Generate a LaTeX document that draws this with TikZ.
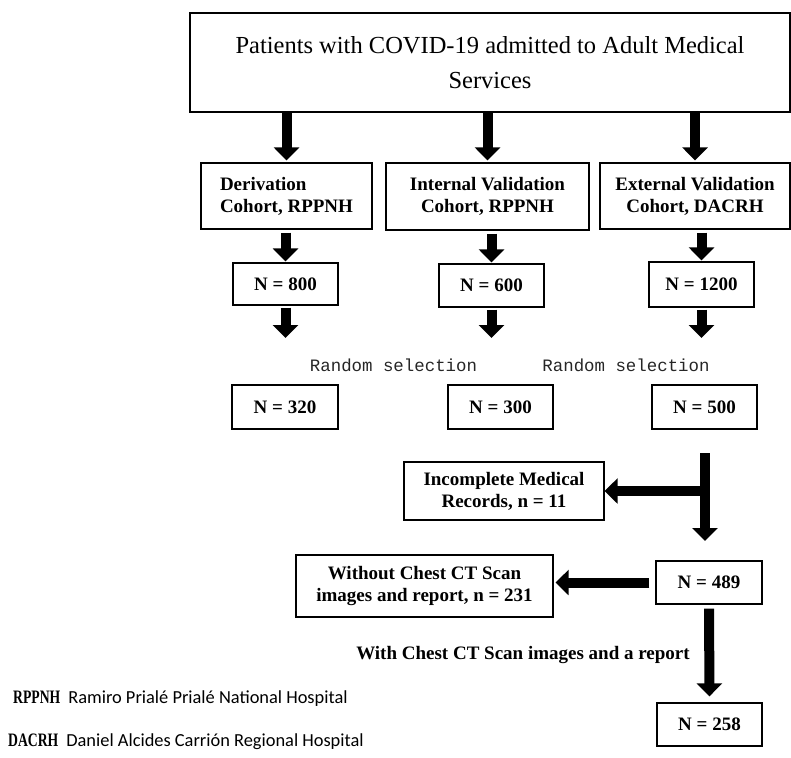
\documentclass[tikz,border=0pt]{standalone}
\usepackage{fontspec}
\setmainfont{Liberation Serif}
\newfontfamily\selfont{Liberation Mono}
\newfontfamily\legfont{Carlito}
\newfontfamily\abbfont[FakeStretch=0.72]{Liberation Serif}
\usepackage{tikz}
\usetikzlibrary{arrows.meta, positioning}
\tikzstyle{bbox} = [draw, line width=1.3pt, align=center, inner sep=0pt, font=\fontsize{19}{22}\selectfont\bfseries]
\tikzstyle{harrow} = [draw, line width=10pt, -{Triangle[width=25pt,length=13pt]}]
\tikzstyle{seltext} = [font=\selfont\fontsize{17.4}{20}\selectfont, text=black!85]

\begin{document}
\begin{tikzpicture}[x=1pt, y=-1pt]
			\useasboundingbox (0,0) rectangle (791,757);
			\node [bbox, minimum width=600pt, minimum height=99pt, font=\fontsize{24.5}{35}\selectfont] (top) at (490, 62.5) {Patients with COVID-19 admitted to Adult Medical\\Services};
			
			\node [bbox, minimum width=171pt, minimum height=66pt, align=left] (deriv) at (286.5, 196) {Derivation\\Cohort, RPPNH};
			\node [bbox, minimum width=203pt, minimum height=67pt] (intval) at (487.5, 196.5) {Internal Validation\\Cohort, RPPNH};
			\node [bbox, minimum width=190pt, minimum height=66pt] (extval) at (695, 196) {External Validation\\Cohort, DACRH};
			
			\node [bbox, minimum width=105pt, minimum height=42pt] (n800) at (285.5, 284) {N = 800};
			\node [bbox, minimum width=105pt, minimum height=43pt] (n600) at (491.5, 285.5) {N = 600};
			\node [bbox, minimum width=105pt, minimum height=45pt] (n1200) at (701.5, 284.5) {N = 1200};
			
			\node [seltext] (sel1) at (393.5, 365) {Random selection};
			\node [seltext] (sel2) at (626, 365) {Random selection};
			
			\node [bbox, minimum width=106pt, minimum height=44pt] (n320) at (285, 407) {N = 320};
			\node [bbox, minimum width=105pt, minimum height=44pt] (n300) at (500.5, 407) {N = 300};
			\node [bbox, minimum width=105pt, minimum height=44pt] (n500) at (704.5, 407) {N = 500};
			
			\node [bbox, minimum width=200pt, minimum height=58pt] (incompl) at (504, 491) {Incomplete Medical\\Records, n = 11};
			\node [bbox, minimum width=106pt, minimum height=43pt] (n489) at (709, 582.5) {N = 489};
			\node [bbox, minimum width=257pt, minimum height=62pt] (without) at (424.5, 586) {Without Chest CT Scan\\images and report, n = 231};
			\node [font=\fontsize{19}{22}\selectfont\bfseries] (withlab) at (523, 655) {With Chest CT Scan images and a report};
			\node [bbox, minimum width=105pt, minimum height=43pt] (n258) at (709.5, 724.5) {N = 258};
			
			% abbreviations
			\node [anchor=west, inner sep=0pt] (leg1) at (13, 699) {{\abbfont\bfseries\fontsize{19}{22}\selectfont RPPNH}\hspace{8pt}{\legfont\fontsize{18.4}{22}\selectfont Ramiro Prialé Prialé National Hospital}};
			\node [anchor=west, inner sep=0pt] (leg2) at (8, 742) {{\abbfont\bfseries\fontsize{19}{22}\selectfont DACRH}\hspace{8pt}{\legfont\fontsize{18.4}{22}\selectfont Daniel Alcides Carrión Regional Hospital}};
			
			\coordinate (e1) at (285.5, 338);
			\coordinate (e2) at (491.5, 338);
			\coordinate (e3) at (701.5, 338);
			\coordinate (splittop) at (705, 453);
			\coordinate (splitend) at (705, 541);
			
			\path [harrow, shorten >=2pt] (deriv.north |- top.south) -- (deriv.north);
			\path [harrow, shorten >=2pt] (intval.north |- top.south) -- (intval.north);
			\path [harrow, shorten >=2pt] (extval.north |- top.south) -- (extval.north);
			\path [harrow, shorten <=3pt, shorten >=1pt] (n800.north |- deriv.south) -- (n800.north);
			\path [harrow, shorten <=3pt, shorten >=1pt] (n600.north |- intval.south) -- (n600.north);
			\path [harrow, shorten <=3pt, shorten >=1pt] (n1200.north |- extval.south) -- (n1200.north);
			\path [harrow, shorten <=2pt] (n800.south) -- (e1);
			\path [harrow, shorten <=2pt] (n600.south) -- (e2);
			\path [harrow, shorten <=2pt] (n1200.south) -- (e3);
			\path [harrow] (splittop) -- (splitend);
			\path [harrow] (splittop |- incompl.east) -- (incompl.east);
			\path [harrow, shorten <=6pt, shorten >=2pt] (n489.west) -- (n489.west -| without.east);
			\path [harrow, shorten <=4pt, shorten >=6pt] (n489.south) -- (n258.north);
		\end{tikzpicture}
\end{document}
